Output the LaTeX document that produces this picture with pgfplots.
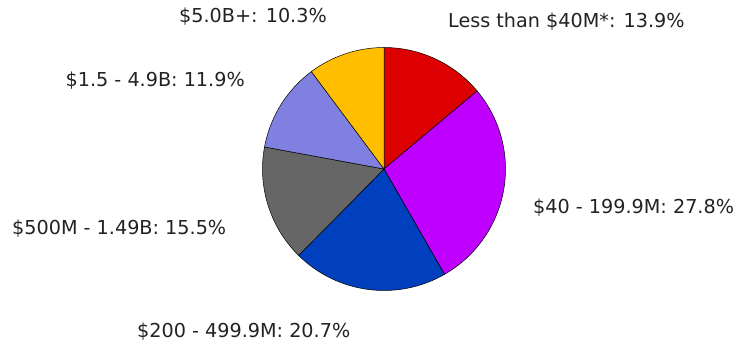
\documentclass[border=0pt]{standalone}
\usepackage{fontspec}
\setmainfont{DejaVu Sans}
\usepackage{pgfplots}
\pgfplotsset{compat=1.18}
\usepackage{pgfplotstable}
\definecolor{cRed}{HTML}{DD0000}
\definecolor{cPurple}{HTML}{BF00FF}
\definecolor{cBlue}{HTML}{0040BF}
\definecolor{cGray}{HTML}{666666}
\definecolor{cLav}{HTML}{8080E0}
\definecolor{cYellow}{HTML}{FFBF00}
\definecolor{txt}{HTML}{222222}
% shares in percent, clockwise from 12 o'clock
\pgfplotstableread{
label share
lt40M 13.9
m40to199 27.8
m200to499 20.7
m500to149 15.5
b15to49 11.9
b50plus 10.3
}\sharetable
\begin{document}
\begin{tikzpicture}
\pgfplotstablegetelem{0}{share}\of\sharetable \let\sA\pgfplotsretval
\pgfplotstablegetelem{1}{share}\of\sharetable \let\sB\pgfplotsretval
\pgfplotstablegetelem{2}{share}\of\sharetable \let\sC\pgfplotsretval
\pgfplotstablegetelem{3}{share}\of\sharetable \let\sD\pgfplotsretval
\pgfplotstablegetelem{4}{share}\of\sharetable \let\sE\pgfplotsretval
\pgfplotstablegetelem{5}{share}\of\sharetable \let\sF\pgfplotsretval
\pgfmathsetmacro\aA{90}
\pgfmathsetmacro\aB{\aA-3.6*\sA}
\pgfmathsetmacro\aC{\aB-3.6*\sB}
\pgfmathsetmacro\aD{\aC-3.6*\sC}
\pgfmathsetmacro\aE{\aD-3.6*\sD}
\pgfmathsetmacro\aF{\aE-3.6*\sE}
\pgfmathsetmacro\aG{-270}
\def\R{121.5pt}
\begin{axis}[
  x=1pt, y=1pt,
  xmin=0, xmax=750, ymin=0, ymax=343,
  hide axis, clip=false,
]
\path (axis cs:0,0) rectangle (axis cs:750,343);
\filldraw[fill=cRed, draw=black, line width=0.5pt] (axis cs:384,174) -- ++(\aA:\R) arc[start angle=\aA, end angle=\aB, radius=\R] -- cycle;
\filldraw[fill=cPurple, draw=black, line width=0.5pt] (axis cs:384,174) -- ++(\aB:\R) arc[start angle=\aB, end angle=\aC, radius=\R] -- cycle;
\filldraw[fill=cBlue, draw=black, line width=0.5pt] (axis cs:384,174) -- ++(\aC:\R) arc[start angle=\aC, end angle=\aD, radius=\R] -- cycle;
\filldraw[fill=cGray, draw=black, line width=0.5pt] (axis cs:384,174) -- ++(\aD:\R) arc[start angle=\aD, end angle=\aE, radius=\R] -- cycle;
\filldraw[fill=cLav, draw=black, line width=0.5pt] (axis cs:384,174) -- ++(\aE:\R) arc[start angle=\aE, end angle=\aF, radius=\R] -- cycle;
\filldraw[fill=cYellow, draw=black, line width=0.5pt] (axis cs:384,174) -- ++(\aF:\R) arc[start angle=\aF, end angle=\aG, radius=\R] -- cycle;
\tikzset{lbl/.style={font=\fontsize{19.2}{21}\selectfont, text=txt, inner sep=0pt}}
\node[lbl, anchor=west] at (axis cs:448,321) {Less than \$40M*: 13.9\%};
\node[lbl, anchor=west] at (axis cs:533,135) {\$40 - 199.9M: 27.8\%};
\node[lbl, anchor=west] at (axis cs:137,11) {\$200 - 499.9M: 20.7\%};
\node[lbl, anchor=west] at (axis cs:12,114) {\$500M - 1.49B: 15.5\%};
\node[lbl, anchor=east] at (axis cs:245,262) {\$1.5 - 4.9B: 11.9\%};
\node[lbl, anchor=center] at (axis cs:253,326) {\$5.0B+: 10.3\%};
\end{axis}
\end{tikzpicture}
\end{document}
